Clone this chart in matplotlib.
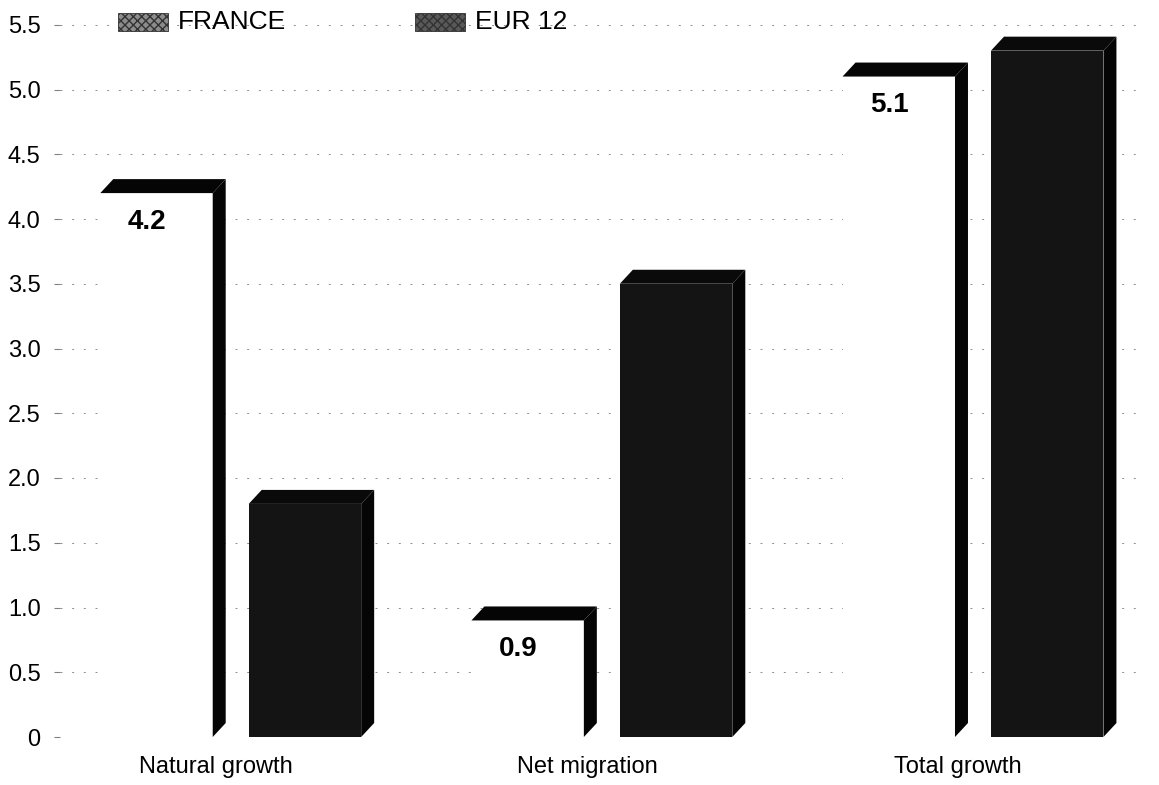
import matplotlib
matplotlib.use('Agg')
import matplotlib.pyplot as plt
from matplotlib.patches import Polygon, Rectangle
import numpy as np

categories = ['Natural growth', 'Net migration', 'Total growth']
france = [4.2, 0.9, 5.1]
eur12 = [1.8, 3.5, 5.3]
series_names = ['FRANCE', 'EUR 12']
yticks = [0, 0.5, 1.0, 1.5, 2.0, 2.5, 3.0, 3.5, 4.0, 4.5, 5.0, 5.5]
ytick_labels = ['0', '0.5', '1.0', '1.5', '2.0', '2.5', '3.0', '3.5', '4.0', '4.5', '5.0', '5.5']

plt.rcParams['font.family'] = ['Liberation Sans', 'DejaVu Sans']

W, H = 1159, 785
fig = plt.figure(figsize=(W / 100, H / 100), dpi=100)
ax = fig.add_axes([60 / W, 48 / H, 1080 / W, 5.6 * 129.5 / H])
ax.set_xlim(-0.46, 2.45)
ax.set_ylim(0, 5.6)

x = np.arange(len(categories))
off = 0.2
w = 0.303
dx = 0.035
dy = 0.108


def bar3d(xc, h, front, top_c, side_c):
    ax.bar(xc, h, w, color=front, edgecolor='none', zorder=3)
    l, r = xc - w / 2, xc + w / 2
    ax.add_patch(Polygon([(l, h), (r, h), (r + dx, h + dy), (l + dx, h + dy)],
                         closed=True, facecolor=top_c, edgecolor='none', zorder=4))
    ax.add_patch(Polygon([(r, 0), (r + dx, dy), (r + dx, h + dy), (r, h)],
                         closed=True, facecolor=side_c, edgecolor='none', zorder=4))


for i in range(len(categories)):
    bar3d(x[i] - off, france[i], 'white', '#050505', '#050505')
    bar3d(x[i] + off, eur12[i], '#141414', '#0a0a0a', '#050505')
    ax.text(x[i] - off - 0.025, france[i] - 0.12, f'{france[i]:.1f}',
            ha='center', va='top', fontsize=20, fontweight='bold', zorder=5)

# sparse dashed grid lines (back wall)
for yv in yticks:
    ax.axhline(yv, color='0.55', lw=0.7, dashes=(2, 10), zorder=1)

for s in ax.spines.values():
    s.set_visible(False)
ax.set_yticks(yticks, ytick_labels)
ax.tick_params(axis='y', length=4, width=0.8, color='0.5', pad=10, labelsize=17)
ax.set_xticks(x - 0.04, categories)
ax.tick_params(axis='x', length=0, pad=14, labelsize=17)

# legend
leg_items = [(118, series_names[0], '0.55'), (415, series_names[1], '0.35')]
for px, name, col in leg_items:
    fig.patches.append(Rectangle((px / W, 1 - 31 / H), 50 / W, 18 / H,
                                 transform=fig.transFigure, facecolor=col,
                                 edgecolor='0.2', hatch='xxxx', lw=0.6))
    fig.text((px + 60) / W, 1 - 22 / H, name, ha='left', va='center', fontsize=19)

fig.savefig('out.png', dpi=100)
